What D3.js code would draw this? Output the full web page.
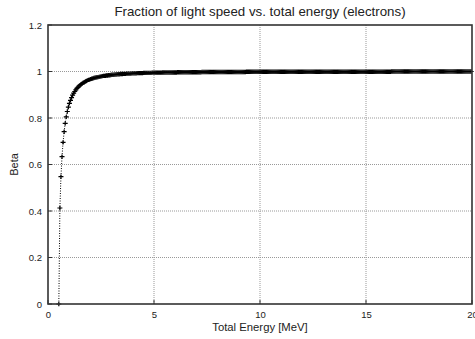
<!DOCTYPE html>
<html>
<head>
<meta charset="utf-8">
<script src="https://cdn.jsdelivr.net/npm/d3@7"></script>
<style>
  body { margin: 0; background: #fff; }
  text { font-family: "Liberation Sans", Arial, sans-serif; fill: #222; }
</style>
</head>
<body>
<div id="chart"></div>
<script>
var width = 475;
var height = 339;

// total energy [MeV]
var energy = [
  0.511, 0.561, 0.611, 0.661, 0.711, 0.761, 0.811, 0.861, 0.911, 0.961,
  1.011, 1.061, 1.111, 1.161, 1.211, 1.261, 1.311, 1.361, 1.411, 1.461,
  1.511, 1.561, 1.611, 1.661, 1.711, 1.761, 1.811, 1.861, 1.911, 1.961,
  2.011, 2.061, 2.111, 2.161, 2.211, 2.261, 2.311, 2.361, 2.411, 2.461,
  2.511, 2.561, 2.611, 2.661, 2.711, 2.761, 2.811, 2.861, 2.911, 2.961,
  3.011, 3.061, 3.111, 3.161, 3.211, 3.261, 3.311, 3.361, 3.411, 3.461,
  3.511, 3.561, 3.611, 3.661, 3.711, 3.761, 3.811, 3.861, 3.911, 3.961,
  4.011, 4.061, 4.111, 4.161, 4.211, 4.261, 4.311, 4.361, 4.411, 4.461,
  4.511, 4.561, 4.611, 4.661, 4.711, 4.761, 4.811, 4.861, 4.911, 4.961,
  5.011, 5.061, 5.111, 5.161, 5.211, 5.261, 5.311, 5.361, 5.411, 5.461,
  5.511, 5.561, 5.611, 5.661, 5.711, 5.761, 5.811, 5.861, 5.911, 5.961,
  6.011, 6.061, 6.111, 6.161, 6.211, 6.261, 6.311, 6.361, 6.411, 6.461,
  6.511, 6.561, 6.611, 6.661, 6.711, 6.761, 6.811, 6.861, 6.911, 6.961,
  7.011, 7.061, 7.111, 7.161, 7.211, 7.261, 7.311, 7.361, 7.411, 7.461,
  7.511, 7.561, 7.611, 7.661, 7.711, 7.761, 7.811, 7.861, 7.911, 7.961,
  8.011, 8.061, 8.111, 8.161, 8.211, 8.261, 8.311, 8.361, 8.411, 8.461,
  8.511, 8.561, 8.611, 8.661, 8.711, 8.761, 8.811, 8.861, 8.911, 8.961,
  9.011, 9.061, 9.111, 9.161, 9.211, 9.261, 9.311, 9.361, 9.411, 9.461,
  9.511, 9.561, 9.611, 9.661, 9.711, 9.761, 9.811, 9.861, 9.911, 9.961,
  10.011, 10.061, 10.111, 10.161, 10.211, 10.261, 10.311, 10.361, 10.411, 10.461,
  10.511, 10.561, 10.611, 10.661, 10.711, 10.761, 10.811, 10.861, 10.911, 10.961,
  11.011, 11.061, 11.111, 11.161, 11.211, 11.261, 11.311, 11.361, 11.411, 11.461,
  11.511, 11.561, 11.611, 11.661, 11.711, 11.761, 11.811, 11.861, 11.911, 11.961,
  12.011, 12.061, 12.111, 12.161, 12.211, 12.261, 12.311, 12.361, 12.411, 12.461,
  12.511, 12.561, 12.611, 12.661, 12.711, 12.761, 12.811, 12.861, 12.911, 12.961,
  13.011, 13.061, 13.111, 13.161, 13.211, 13.261, 13.311, 13.361, 13.411, 13.461,
  13.511, 13.561, 13.611, 13.661, 13.711, 13.761, 13.811, 13.861, 13.911, 13.961,
  14.011, 14.061, 14.111, 14.161, 14.211, 14.261, 14.311, 14.361, 14.411, 14.461,
  14.511, 14.561, 14.611, 14.661, 14.711, 14.761, 14.811, 14.861, 14.911, 14.961,
  15.011, 15.061, 15.111, 15.161, 15.211, 15.261, 15.311, 15.361, 15.411, 15.461,
  15.511, 15.561, 15.611, 15.661, 15.711, 15.761, 15.811, 15.861, 15.911, 15.961,
  16.011, 16.061, 16.111, 16.161, 16.211, 16.261, 16.311, 16.361, 16.411, 16.461,
  16.511, 16.561, 16.611, 16.661, 16.711, 16.761, 16.811, 16.861, 16.911, 16.961,
  17.011, 17.061, 17.111, 17.161, 17.211, 17.261, 17.311, 17.361, 17.411, 17.461,
  17.511, 17.561, 17.611, 17.661, 17.711, 17.761, 17.811, 17.861, 17.911, 17.961,
  18.011, 18.061, 18.111, 18.161, 18.211, 18.261, 18.311, 18.361, 18.411, 18.461,
  18.511, 18.561, 18.611, 18.661, 18.711, 18.761, 18.811, 18.861, 18.911, 18.961,
  19.011, 19.061, 19.111, 19.161, 19.211, 19.261, 19.311, 19.361, 19.411, 19.461,
  19.511, 19.561, 19.611, 19.661, 19.711, 19.761, 19.811, 19.861, 19.911, 19.961
];

// beta = v/c
var beta = [
  0.000, 0.413, 0.548, 0.634, 0.695, 0.741, 0.777, 0.805, 0.828, 0.847,
  0.863, 0.876, 0.888, 0.898, 0.907, 0.914, 0.921, 0.927, 0.932, 0.937,
  0.941, 0.945, 0.948, 0.952, 0.954, 0.957, 0.959, 0.962, 0.964, 0.965,
  0.967, 0.969, 0.970, 0.972, 0.973, 0.974, 0.975, 0.976, 0.977, 0.978,
  0.979, 0.980, 0.981, 0.981, 0.982, 0.983, 0.983, 0.984, 0.984, 0.985,
  0.986, 0.986, 0.986, 0.987, 0.987, 0.988, 0.988, 0.988, 0.989, 0.989,
  0.989, 0.990, 0.990, 0.990, 0.991, 0.991, 0.991, 0.991, 0.991, 0.992,
  0.992, 0.992, 0.992, 0.992, 0.993, 0.993, 0.993, 0.993, 0.993, 0.993,
  0.994, 0.994, 0.994, 0.994, 0.994, 0.994, 0.994, 0.994, 0.995, 0.995,
  0.995, 0.995, 0.995, 0.995, 0.995, 0.995, 0.995, 0.995, 0.996, 0.996,
  0.996, 0.996, 0.996, 0.996, 0.996, 0.996, 0.996, 0.996, 0.996, 0.996,
  0.996, 0.996, 0.997, 0.997, 0.997, 0.997, 0.997, 0.997, 0.997, 0.997,
  0.997, 0.997, 0.997, 0.997, 0.997, 0.997, 0.997, 0.997, 0.997, 0.997,
  0.997, 0.997, 0.997, 0.997, 0.997, 0.998, 0.998, 0.998, 0.998, 0.998,
  0.998, 0.998, 0.998, 0.998, 0.998, 0.998, 0.998, 0.998, 0.998, 0.998,
  0.998, 0.998, 0.998, 0.998, 0.998, 0.998, 0.998, 0.998, 0.998, 0.998,
  0.998, 0.998, 0.998, 0.998, 0.998, 0.998, 0.998, 0.998, 0.998, 0.998,
  0.998, 0.998, 0.998, 0.998, 0.998, 0.998, 0.998, 0.999, 0.999, 0.999,
  0.999, 0.999, 0.999, 0.999, 0.999, 0.999, 0.999, 0.999, 0.999, 0.999,
  0.999, 0.999, 0.999, 0.999, 0.999, 0.999, 0.999, 0.999, 0.999, 0.999,
  0.999, 0.999, 0.999, 0.999, 0.999, 0.999, 0.999, 0.999, 0.999, 0.999,
  0.999, 0.999, 0.999, 0.999, 0.999, 0.999, 0.999, 0.999, 0.999, 0.999,
  0.999, 0.999, 0.999, 0.999, 0.999, 0.999, 0.999, 0.999, 0.999, 0.999,
  0.999, 0.999, 0.999, 0.999, 0.999, 0.999, 0.999, 0.999, 0.999, 0.999,
  0.999, 0.999, 0.999, 0.999, 0.999, 0.999, 0.999, 0.999, 0.999, 0.999,
  0.999, 0.999, 0.999, 0.999, 0.999, 0.999, 0.999, 0.999, 0.999, 0.999,
  0.999, 0.999, 0.999, 0.999, 0.999, 0.999, 0.999, 0.999, 0.999, 0.999,
  0.999, 0.999, 0.999, 0.999, 0.999, 0.999, 0.999, 0.999, 0.999, 0.999,
  0.999, 0.999, 0.999, 0.999, 0.999, 0.999, 0.999, 0.999, 0.999, 0.999,
  0.999, 0.999, 0.999, 0.999, 0.999, 0.999, 0.999, 0.999, 0.999, 0.999,
  0.999, 0.999, 0.999, 0.999, 0.999, 0.999, 0.999, 0.999, 0.999, 0.999,
  0.999, 0.999, 0.999, 0.999, 1.000, 1.000, 1.000, 1.000, 1.000, 1.000,
  1.000, 1.000, 1.000, 1.000, 1.000, 1.000, 1.000, 1.000, 1.000, 1.000,
  1.000, 1.000, 1.000, 1.000, 1.000, 1.000, 1.000, 1.000, 1.000, 1.000,
  1.000, 1.000, 1.000, 1.000, 1.000, 1.000, 1.000, 1.000, 1.000, 1.000,
  1.000, 1.000, 1.000, 1.000, 1.000, 1.000, 1.000, 1.000, 1.000, 1.000,
  1.000, 1.000, 1.000, 1.000, 1.000, 1.000, 1.000, 1.000, 1.000, 1.000,
  1.000, 1.000, 1.000, 1.000, 1.000, 1.000, 1.000, 1.000, 1.000, 1.000,
  1.000, 1.000, 1.000, 1.000, 1.000, 1.000, 1.000, 1.000, 1.000, 1.000
];

var xTicks = [0, 5, 10, 15, 20];
var yTicks = [0, 0.2, 0.4, 0.6, 0.8, 1, 1.2];

var margin = { top: 25, right: 3, bottom: 35, left: 48 };

var points = energy.map(function (e, i) { return { e: e, b: beta[i] }; });

var svg = d3
  .select("#chart")
  .append("svg")
  .attr("width", width)
  .attr("height", height);

var x = d3.scaleLinear()
  .domain([0, 20])
  .range([margin.left, width - margin.right]);

var y = d3.scaleLinear()
  .domain([0, 1.2])
  .range([height - margin.bottom, margin.top]);

// grid lines (dotted)
svg.append("g")
  .selectAll("line")
  .data(xTicks.slice(1, -1))
  .enter()
  .append("line")
  .attr("x1", d => x(d)).attr("x2", d => x(d))
  .attr("y1", y(0)).attr("y2", y(1.2))
  .attr("stroke", "#999")
  .attr("stroke-dasharray", "1,1");

svg.append("g")
  .selectAll("line")
  .data(yTicks.slice(1, -1))
  .enter()
  .append("line")
  .attr("x1", x(0)).attr("x2", x(20))
  .attr("y1", d => y(d)).attr("y2", d => y(d))
  .attr("stroke", "#999")
  .attr("stroke-dasharray", "1,1");

// axes
var xAxis = d3.axisBottom(x).tickValues(xTicks).tickSize(0).tickPadding(7);
var yAxis = d3.axisLeft(y).tickValues(yTicks).tickSize(0).tickPadding(6)
  .tickFormat(d => String(d));

var gx = svg.append("g")
  .attr("transform", "translate(0," + y(0) + ")")
  .call(xAxis);
gx.select(".domain").remove();
gx.selectAll("text").attr("font-size", 9.5).attr("fill", "#222");

var gy = svg.append("g")
  .attr("transform", "translate(" + x(0) + ",0)")
  .call(yAxis);
gy.select(".domain").remove();
gy.selectAll("text").attr("font-size", 9.5).attr("fill", "#222");

// small inner tick marks
svg.append("g")
  .selectAll("line")
  .data(xTicks)
  .enter()
  .append("line")
  .attr("x1", d => x(d)).attr("x2", d => x(d))
  .attr("y1", y(0)).attr("y2", y(0) - 4)
  .attr("stroke", "#333");

svg.append("g")
  .selectAll("line")
  .data(yTicks)
  .enter()
  .append("line")
  .attr("x1", x(0)).attr("x2", x(0) + 4)
  .attr("y1", d => y(d)).attr("y2", d => y(d))
  .attr("stroke", "#333");

// data: dotted line with + markers
var line = d3.line()
  .x(d => x(d.e))
  .y(d => y(d.b));

svg.append("path")
  .datum(points)
  .attr("d", line)
  .attr("fill", "none")
  .attr("stroke", "#000")
  .attr("stroke-width", 1)
  .attr("stroke-dasharray", "1,1.5");

svg.append("g")
  .selectAll("path")
  .data(points)
  .enter()
  .append("path")
  .attr("transform", d => "translate(" + x(d.e) + "," + y(d.b) + ")")
  .attr("d", "M-2.5,0H2.5M0,-2.2V2.2")
  .attr("stroke", "#000")
  .attr("stroke-width", 1.2)
  .attr("fill", "none");

// frame
svg.append("rect")
  .attr("x", x(0))
  .attr("y", y(1.2))
  .attr("width", x(20) - x(0))
  .attr("height", y(0) - y(1.2))
  .attr("fill", "none")
  .attr("stroke", "#333")
  .attr("stroke-width", 1.6);

// titles
svg.append("text")
  .attr("x", (x(0) + x(20)) / 2)
  .attr("y", 16)
  .attr("text-anchor", "middle")
  .attr("font-size", 13.3)
  .text("Fraction of light speed vs. total energy (electrons)");

svg.append("text")
  .attr("x", (x(0) + x(20)) / 2)
  .attr("y", 331)
  .attr("text-anchor", "middle")
  .attr("font-size", 11.3)
  .text("Total Energy [MeV]");

svg.append("text")
  .attr("transform", "translate(18," + y(0.6) + ") rotate(-90)")
  .attr("text-anchor", "middle")
  .attr("font-size", 11)
  .text("Beta");
</script>
</body>
</html>
